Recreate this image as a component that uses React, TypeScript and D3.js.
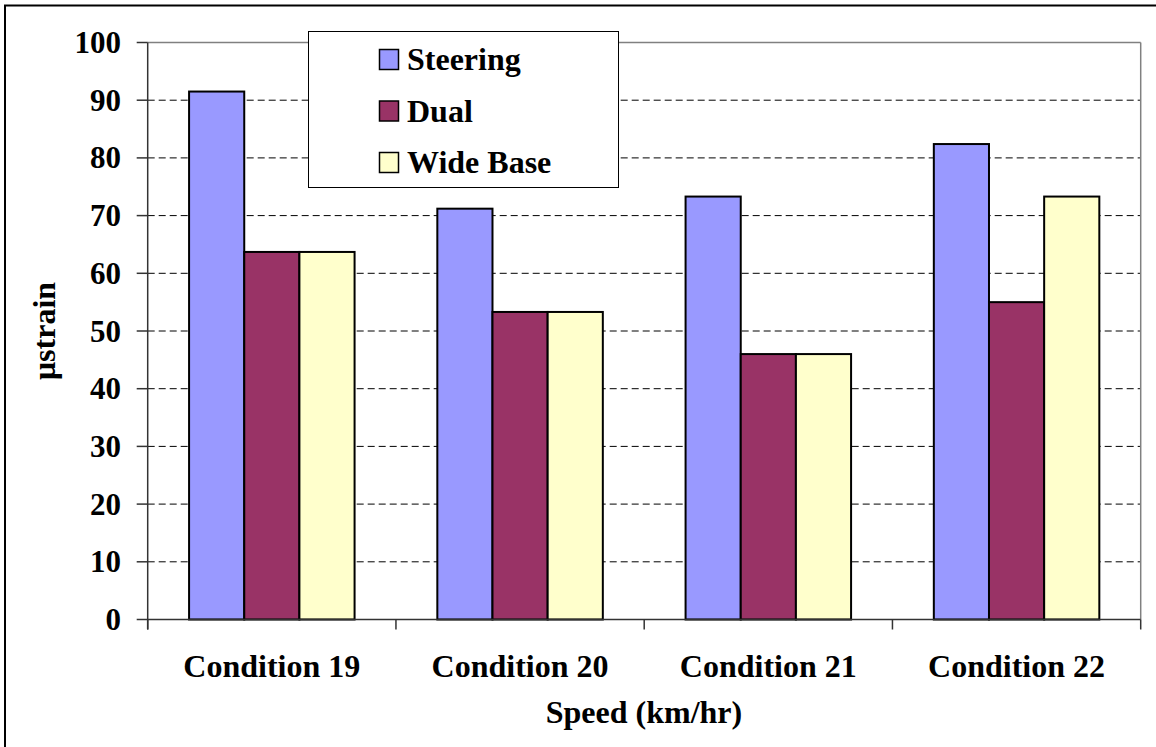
import React from "react";
import * as d3 from "d3";

const categories = ["Condition 19", "Condition 20", "Condition 21", "Condition 22"];
const seriesNames = ["Steering", "Dual", "Wide Base"];
const steering = [91.5, 71.2, 73.3, 82.4];
const dual = [63.7, 53.3, 46.0, 55.0];
const wideBase = [63.7, 53.3, 46.0, 73.3];
const yTicks = [0, 10, 20, 30, 40, 50, 60, 70, 80, 90, 100];
const colors = ["#9999FF", "#993366", "#FFFFCC"];
const xTitle = "Speed (km/hr)";
const yTitle = "\u03bcstrain";

const W = 1156;
const H = 747;
const left = 147.7;
const right = 1140.7;
const top = 42.5;
const bottom = 619.5;
const FF = { fontFamily: "Liberation Serif" };

export default function App() {
  const values = [steering, dual, wideBase];
  const y = d3.scaleLinear().domain([0, 100]).range([bottom, top]);
  const x0 = d3.scaleBand<string>().domain(categories).range([left, right]).paddingInner(0).paddingOuter(0);
  const x1 = d3
    .scaleBand<string>()
    .domain(seriesNames)
    .range([0, x0.bandwidth()])
    .paddingInner(0)
    .paddingOuter(0.75);

  const boundaries = categories.map((c) => x0(c) as number).concat([right]);

  return (
    <svg width={W} height={H} style={{ position: "absolute", left: 0, top: 0 }}>
      <rect x={0} y={0} width={W} height={H} fill="#fff" />
      <rect x={5} y={5.5} width={1170} height={760} fill="none" stroke="#000" strokeWidth={2} />

      {yTicks
        .filter((t) => t > 0 && t < 100)
        .map((t) => (
          <line
            key={"g" + t}
            x1={left}
            x2={right}
            y1={y(t)}
            y2={y(t)}
            stroke="#000"
            strokeWidth={1}
            strokeDasharray="7,4"
          />
        ))}
      <line x1={left} x2={right} y1={top} y2={top} stroke="#808080" strokeWidth={1.5} />
      <line x1={right} x2={right} y1={top} y2={bottom} stroke="#808080" strokeWidth={1.5} />

      {categories.map((c, ci) =>
        seriesNames.map((s, si) => (
          <rect
            key={c + s}
            x={(x0(c) as number) + (x1(s) as number)}
            y={y(values[si][ci])}
            width={x1.bandwidth()}
            height={bottom - y(values[si][ci])}
            fill={colors[si]}
            stroke="#000"
            strokeWidth={2}
          />
        ))
      )}

      <line x1={left} x2={left} y1={top} y2={bottom + 10} stroke="#333" strokeWidth={1.5} />
      {yTicks.map((t) => (
        <g key={"t" + t}>
          <line x1={left - 11} x2={left} y1={y(t)} y2={y(t)} stroke="#333" strokeWidth={1.5} />
          <text x={121} y={y(t)} dy="0.34em" textAnchor="end" fontSize={31} fontWeight={700} fill="#000" style={FF}>
            {t}
          </text>
        </g>
      ))}

      <line x1={left} x2={right} y1={bottom} y2={bottom} stroke="#333" strokeWidth={1.5} />
      {boundaries.map((b, i) => (
        <line key={"xt" + i} x1={b} x2={b} y1={bottom} y2={bottom + 10} stroke="#333" strokeWidth={1.5} />
      ))}
      {categories.map((c) => (
        <text
          key={"xl" + c}
          x={(x0(c) as number) + x0.bandwidth() / 2}
          y={676.5}
          textAnchor="middle"
          fontSize={32}
          fontWeight={700}
          fill="#000"
          style={FF}
        >
          {c}
        </text>
      ))}

      <text x={644} y={723} textAnchor="middle" fontSize={32} fontWeight={700} fill="#000" style={FF}>
        {xTitle}
      </text>
      <text
        transform={`translate(55, ${(top + bottom) / 2}) rotate(-90)`}
        textAnchor="middle"
        fontSize={32}
        fontWeight={700}
        fill="#000"
        style={FF}
      >
        {yTitle}
      </text>

      <rect x={308.5} y={31.5} width={310} height={156} fill="#fff" stroke="#000" strokeWidth={1} />
      {seriesNames.map((s, i) => {
        const base = 70 + i * 51.5;
        return (
          <g key={"lg" + s}>
            <rect x={379.5} y={base - 20.5} width={19} height={20} fill={colors[i]} stroke="#000" strokeWidth={1.5} />
            <text x={407} y={base} fontSize={32} fontWeight={700} fill="#000" style={FF}>
              {s}
            </text>
          </g>
        );
      })}
    </svg>
  );
}
